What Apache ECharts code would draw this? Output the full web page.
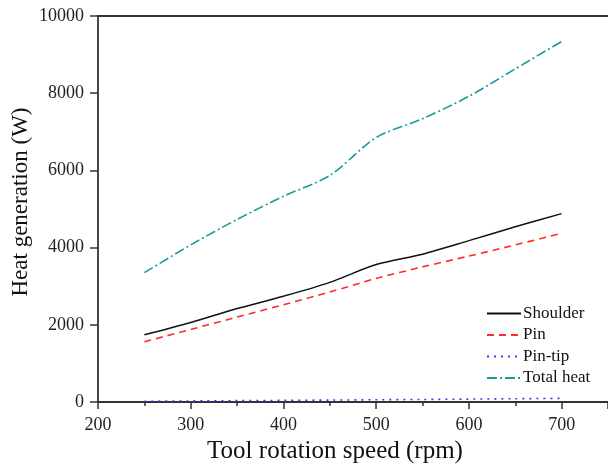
<!DOCTYPE html>
<html>
<head>
<meta charset="utf-8">
<script src="https://cdn.jsdelivr.net/npm/echarts@6/dist/echarts.min.js"></script>
<style>html,body{margin:0;padding:0;background:#fff}#c{width:608px;height:464px}</style>
</head>
<body>
<div id="c"></div>
<script>
const speeds = [250, 300, 350, 400, 450, 500, 550, 600, 650, 700];
const shoulder = [1740, 2060, 2420, 2740, 3100, 3560, 3830, 4180, 4540, 4880];
const pin = [1560, 1880, 2200, 2520, 2850, 3200, 3500, 3780, 4070, 4370];
const pinTip = [20, 28, 35, 42, 50, 58, 66, 75, 85, 95];
const totalHeat = [3350, 4070, 4730, 5330, 5870, 6850, 7340, 7920, 8630, 9340];
const seriesNames = ['Shoulder', 'Pin', 'Pin-tip', 'Total heat'];
const xTitle = 'Tool rotation speed (rpm)';
const yTitle = 'Heat generation (W)';

const font = 'Liberation Serif';
const pair = (ys) => speeds.map((x, i) => [x, ys[i]]);
const chart = echarts.init(document.getElementById('c'), null, {renderer: 'canvas'});
chart.setOption({
  animation: false,
  backgroundColor: '#fff',
  grid: {left: 98, top: 16, right: 0, bottom: 62, containLabel: false, outerBoundsMode: 'none'},
  legend: {
    orient: 'vertical', left: 481, top: 300, itemWidth: 34, itemHeight: 12, itemGap: 4.5,
    itemStyle: {opacity: 0},
    textStyle: {fontFamily: font, fontSize: 17, color: '#111', padding: [0,0,0,-3]},
    data: seriesNames
  },
  xAxis: [{
    type: 'value', min: 200, max: 750, interval: 100,
    name: xTitle, nameLocation: 'middle', nameGap: 37,
    nameTextStyle: {fontFamily: font, fontSize: 25, color: '#111', padding: [0, 36, 0, 0]},
    axisLine: {show: true, lineStyle: {color: '#333', width: 1.8}},
    axisTick: {show: true, inside: false, length: 7, lineStyle: {color: '#333', width: 1.5}},
    minorTick: {show: true, splitNumber: 2, length: 4, lineStyle: {color: '#333', width: 1.5}},
    axisLabel: {fontFamily: font, fontSize: 18, color: '#222', margin: 14, showMaxLabel: false,
      formatter: v => (v % 100 === 0 ? String(v) : '')},
    splitLine: {show: false}
  }, {
    type: 'value', min: 200, max: 750, position: 'top',
    axisLine: {show: true, onZero: false, lineStyle: {color: '#333', width: 1.8}},
    axisTick: {show: false}, axisLabel: {show: false}, splitLine: {show: false}
  }],
  yAxis: {
    type: 'value', min: 0, max: 10000, interval: 2000,
    name: yTitle, nameLocation: 'middle', nameGap: 66, nameMoveOverlap: false,
    nameTextStyle: {fontFamily: font, fontSize: 23, color: '#111', padding: [0, 0, 0, 14]},
    axisLine: {show: true, lineStyle: {color: '#333', width: 1.8}},
    axisTick: {show: true, inside: false, length: 8, lineStyle: {color: '#333', width: 1.5}},
    axisLabel: {fontFamily: font, fontSize: 18, color: '#222', margin: 14, formatter: v => String(v)},
    splitLine: {show: false}
  },
  series: [
    {name: seriesNames[0], type: 'line', data: pair(shoulder), symbol: 'none', smooth: 0.3,
      color: '#111', lineStyle: {color: '#111', width: 1.5, type: 'solid'}},
    {name: seriesNames[1], type: 'line', data: pair(pin), symbol: 'none', smooth: 0.3,
      color: '#ff2a2a', lineStyle: {color: '#ff2a2a', width: 1.6, type: [7, 5]}},
    {name: seriesNames[2], type: 'line', data: pair(pinTip), symbol: 'none', smooth: 0.3,
      color: '#3a3aff', lineStyle: {color: '#3a3aff', width: 1.6, type: [2, 5]}},
    {name: seriesNames[3], type: 'line', data: pair(totalHeat), symbol: 'none', smooth: 0.3,
      color: '#1a9a9a', lineStyle: {color: '#1a9a9a', width: 1.6, type: [10, 3, 2, 3]}}
  ]
});
</script>
</body>
</html>
